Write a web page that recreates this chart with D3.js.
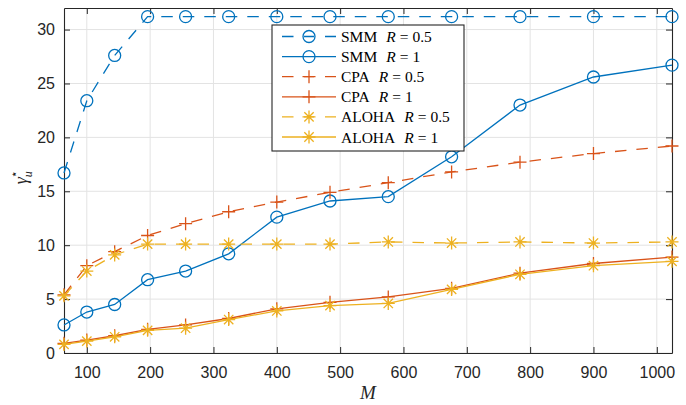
<!DOCTYPE html>
<html>
<head>
<meta charset="utf-8">
<script src="https://cdn.jsdelivr.net/npm/d3@7"></script>
<style>
  body { margin: 0; background: #fff; }
  svg { display: block; }
</style>
</head>
<body>
<script>
// data (M = 8^2 ... 32^2)
const mValues = [64, 100, 144, 196, 256, 324, 400, 484, 576, 676, 784, 900, 1024];
const smmHalf = [16.7, 23.4, 27.6, 31.2, 31.2, 31.2, 31.2, 31.2, 31.2, 31.2, 31.2, 31.2, 31.2];
const smmOne = [2.6, 3.8, 4.5, 6.8, 7.6, 9.2, 12.6, 14.1, 14.5, 18.2, 23.0, 25.6, 26.7];
const cpaHalf = [5.4, 8.1, 9.4, 10.9, 12.0, 13.1, 14.0, 14.9, 15.8, 16.8, 17.7, 18.5, 19.2];
const cpaOne = [0.9, 1.2, 1.6, 2.2, 2.6, 3.2, 4.1, 4.7, 5.2, 6.0, 7.4, 8.3, 8.9];
const alohaHalf = [5.3, 7.6, 9.1, 10.1, 10.1, 10.1, 10.1, 10.1, 10.3, 10.2, 10.3, 10.2, 10.3];
const alohaOne = [0.8, 1.1, 1.5, 2.1, 2.3, 3.1, 3.9, 4.4, 4.6, 5.9, 7.3, 8.1, 8.5];
const xTicks = [100, 200, 300, 400, 500, 600, 700, 800, 900, 1000];
const yTicks = [0, 5, 10, 15, 20, 25, 30];

const series = [
  {name: "SMM", r: "0.5", vals: smmHalf, color: "#0072BD", dash: true, marker: "circle"},
  {name: "SMM", r: "1", vals: smmOne, color: "#0072BD", dash: false, marker: "circle"},
  {name: "CPA", r: "0.5", vals: cpaHalf, color: "#D95319", dash: true, marker: "plus"},
  {name: "CPA", r: "1", vals: cpaOne, color: "#D95319", dash: false, marker: "plus"},
  {name: "ALOHA", r: "0.5", vals: alohaHalf, color: "#EDB120", dash: true, marker: "star"},
  {name: "ALOHA", r: "1", vals: alohaOne, color: "#EDB120", dash: false, marker: "star"}
];

const W = 686, H = 405;
const margin = {left: 64, right: 14, top: 8, bottom: 52};

const svg = d3.select("body").append("svg")
  .attr("width", W)
  .attr("height", H);

const x = d3.scaleLinear().domain([64, 1024]).range([margin.left, W - margin.right]);
const y = d3.scaleLinear().domain([0, 32]).range([H - margin.bottom, margin.top]);

const axisColor = "#262626";
const tickFont = "'Liberation Sans', Arial, Helvetica, sans-serif";
const serif = "'Liberation Serif', 'Times New Roman', serif";

// grid
svg.append("g").selectAll("line").data(xTicks).join("line")
  .attr("x1", d => x(d)).attr("x2", d => x(d))
  .attr("y1", y(0)).attr("y2", y(32))
  .attr("stroke", "#e3e3e3").attr("stroke-width", 1);
svg.append("g").selectAll("line").data(yTicks).join("line")
  .attr("x1", x(64)).attr("x2", x(1024))
  .attr("y1", d => y(d)).attr("y2", d => y(d))
  .attr("stroke", "#e3e3e3").attr("stroke-width", 1);

// axes, ticks pointing inwards
const tickLen = 6;
const styleAxis = g => {
  g.select(".domain").attr("stroke", axisColor).attr("stroke-width", 1.1);
  g.selectAll(".tick line").attr("stroke", axisColor);
  g.selectAll("text").attr("fill", axisColor).style("font-family", tickFont).style("font-size", "16px");
};

svg.append("g")
  .attr("transform", `translate(0,${y(0)})`)
  .call(d3.axisBottom(x).tickValues(xTicks).tickFormat(d3.format("d"))
    .tickSizeInner(-tickLen).tickSizeOuter(0).tickPadding(14))
  .call(styleAxis);
svg.append("g")
  .attr("transform", `translate(0,${y(32)})`)
  .call(d3.axisTop(x).tickValues(xTicks).tickSizeInner(-tickLen).tickSizeOuter(0).tickFormat(""))
  .call(styleAxis);
svg.append("g")
  .attr("transform", `translate(${x(64)},0)`)
  .call(d3.axisLeft(y).tickValues(yTicks).tickSizeInner(-tickLen).tickSizeOuter(0).tickPadding(9))
  .call(styleAxis);
svg.append("g")
  .attr("transform", `translate(${x(1024)},0)`)
  .call(d3.axisRight(y).tickValues(yTicks).tickSizeInner(-tickLen).tickSizeOuter(0).tickFormat(""))
  .call(styleAxis);

// markers
const drawMarker = (g, type, cx, cy, color) => {
  if (type === "circle") {
    g.append("circle").attr("cx", cx).attr("cy", cy).attr("r", 6)
      .attr("fill", "none").attr("stroke", color).attr("stroke-width", 1.3);
  } else if (type === "plus") {
    g.append("path").attr("d", `M${cx - 6.5},${cy}H${cx + 6.5}M${cx},${cy - 6.5}V${cy + 6.5}`)
      .attr("stroke", color).attr("stroke-width", 1.3).attr("fill", "none");
  } else {
    const s = 6.5, d = s * 0.72;
    g.append("path").attr("d",
      `M${cx - s},${cy}H${cx + s}M${cx},${cy - s}V${cy + s}` +
      `M${cx - d},${cy - d}L${cx + d},${cy + d}M${cx - d},${cy + d}L${cx + d},${cy - d}`)
      .attr("stroke", color).attr("stroke-width", 1.3).attr("fill", "none");
  }
};

const line = d3.line()
  .x(d => x(d[0]))
  .y(d => y(d[1]))
  .curve(d3.curveLinear);

const plot = svg.append("g");
series.forEach(s => {
  const pts = mValues.map((m, i) => [m, s.vals[i]]);
  plot.append("path")
    .attr("d", line(pts))
    .attr("fill", "none")
    .attr("stroke", s.color)
    .attr("stroke-width", 1.3)
    .attr("stroke-dasharray", s.dash ? "11.5,10" : null);
  pts.forEach(p => drawMarker(plot, s.marker, x(p[0]), y(p[1]), s.color));
});

// legend
const lg = svg.append("g").attr("transform", "translate(272,25)");
lg.append("rect").attr("width", 192).attr("height", 126)
  .attr("fill", "#fff").attr("stroke", axisColor).attr("stroke-width", 1.1);
series.forEach((s, i) => {
  const ly = 11.5 + i * 20.1;
  lg.append("line").attr("x1", 10).attr("x2", 64).attr("y1", ly).attr("y2", ly)
    .attr("stroke", s.color).attr("stroke-width", 1.3)
    .attr("stroke-dasharray", s.dash ? "11.5,10.5,10,11,11.5" : null);
  drawMarker(lg, s.marker, 37, ly, s.color);

  const txt = (xx, str, italic) => lg.append("text").attr("x", xx).attr("y", ly + 5.5)
    .style("font-family", serif).style("font-size", "15.5px")
    .style("font-style", italic ? "italic" : "normal")
    .attr("fill", "#000").text(str);
  const nm = txt(69, s.name, false);
  const rx = 69 + nm.node().getComputedTextLength() + 9;
  const rt = txt(rx, "R", true);
  const ex = rx + rt.node().getComputedTextLength() + 4;
  const et = txt(ex, "=", false);
  txt(ex + et.node().getComputedTextLength() + 4, s.r, false);
});

// axis labels
svg.append("text")
  .attr("x", x(544)).attr("y", 399)
  .attr("text-anchor", "middle")
  .style("font-family", serif).style("font-style", "italic").style("font-size", "19px")
  .attr("fill", axisColor)
  .text("M");

const yl = svg.append("text")
  .attr("transform", `translate(27,${y(16.3)}) rotate(-90)`)
  .attr("text-anchor", "middle")
  .style("font-family", serif).style("font-size", "18px")
  .attr("fill", axisColor);
yl.append("tspan").style("font-style", "italic").text("\u03B3");
yl.append("tspan").attr("dy", 5).style("font-size", "12px").style("font-style", "italic").text("u");
yl.append("tspan").attr("dx", -7).attr("dy", -14).style("font-size", "12px").text("\u22C6");
</script>
</body>
</html>
